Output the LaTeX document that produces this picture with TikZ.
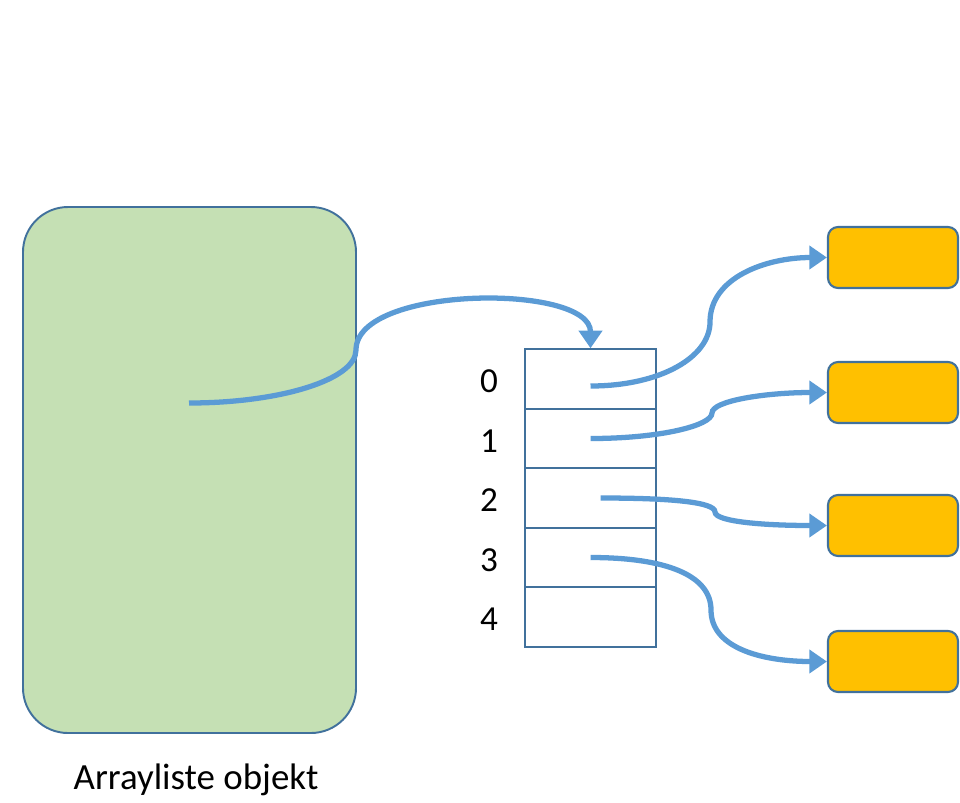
\documentclass[tikz,border=0pt]{standalone}
\usepackage{fontspec}
\setmainfont{Carlito}
\usetikzlibrary{arrows.meta}
\definecolor{edgeblue}{HTML}{41719C}
\definecolor{linkblue}{HTML}{5B9BD5}
\definecolor{objgreen}{HTML}{C5E0B4}
\definecolor{elemorange}{HTML}{FFC000}
\tikzstyle{object} = [rectangle, rounded corners=0.9cm, minimum width=6.66cm, minimum height=10.52cm, draw=edgeblue, line width=1.1pt, fill=objgreen]
\tikzstyle{cell} = [rectangle, minimum width=2.62cm, minimum height=1.19cm, draw=edgeblue, line width=1.1pt, fill=white]
\tikzstyle{element} = [rectangle, rounded corners=0.2cm, minimum width=2.6cm, minimum height=1.22cm, draw=edgeblue, line width=1.2pt, fill=elemorange]
\tikzstyle{idx} = [font=\fontsize{20}{24}\selectfont, yshift=-0.05cm]
\tikzstyle{arrow} = [linkblue, line width=3pt, -{Triangle[length=10pt,width=13pt]}]

\begin{document}
\begin{tikzpicture}[node distance=1.19cm]
\useasboundingbox (0,0) rectangle (19.2,-16.04);
\node (obj) [object] at (3.79,-9.40) {};
\node (cap) [font=\fontsize{21}{25}\selectfont] at (3.92,-15.6) {Arrayliste objekt};
% array cells
\node (c0) [cell] at (11.81,-7.58) {};
\node (c1) [cell, below of=c0] {};
\node (c2) [cell, below of=c1] {};
\node (c3) [cell, below of=c2] {};
\node (c4) [cell, below of=c3] {};
\node (n0) [idx, left of=c0, node distance=2.03cm] {0};
\node (n1) [idx, left of=c1, node distance=2.03cm] {1};
\node (n2) [idx, left of=c2, node distance=2.03cm] {2};
\node (n3) [idx, left of=c3, node distance=2.03cm] {3};
\node (n4) [idx, left of=c4, node distance=2.03cm] {4};
% elements
\node (o0) [element] at (17.86,-5.15) {};
\node (o1) [element] at (17.86,-7.85) {};
\node (o2) [element] at (17.86,-10.51) {};
\node (o3) [element] at (17.86,-13.23) {};
% bend points
\coordinate (ref) at (3.78,-8.06);
\coordinate (k0) at (7.12,-7.0);
\coordinate (k1) at (14.2,-6.44);
\coordinate (k2) at (14.24,-8.26);
\coordinate (k3) at (14.3,-10.24);
\coordinate (k4) at (14.22,-12.2);
\draw [arrow] (ref) .. controls +(1.8,0) and +(0,-0.6) .. (k0) .. controls +(0,1.3) and +(0,1.3) .. (c0.north);
\draw [arrow] ([yshift=-0.14cm]c0.center) .. controls +(1.4,0) and +(0,-0.7) .. (k1) .. controls +(0,0.9) and +(-1.2,0) .. (o0.west);
\draw [arrow] (c1.center) .. controls +(1.4,0) and +(0,-0.25) .. (k2) .. controls +(0,0.25) and +(-1.2,0) .. (o1.west);
\draw [arrow] ([xshift=0.2cm]c2.center) .. controls +(1.4,0) and +(0,0.2) .. (k3) .. controls +(0,-0.2) and +(-1.2,0) .. (o2.west);
\draw [arrow] (c3.center) .. controls +(1.5,0) and +(0,0.7) .. (k4) .. controls +(0,-0.8) and +(-1.2,0) .. (o3.west);
\end{tikzpicture}
\end{document}
